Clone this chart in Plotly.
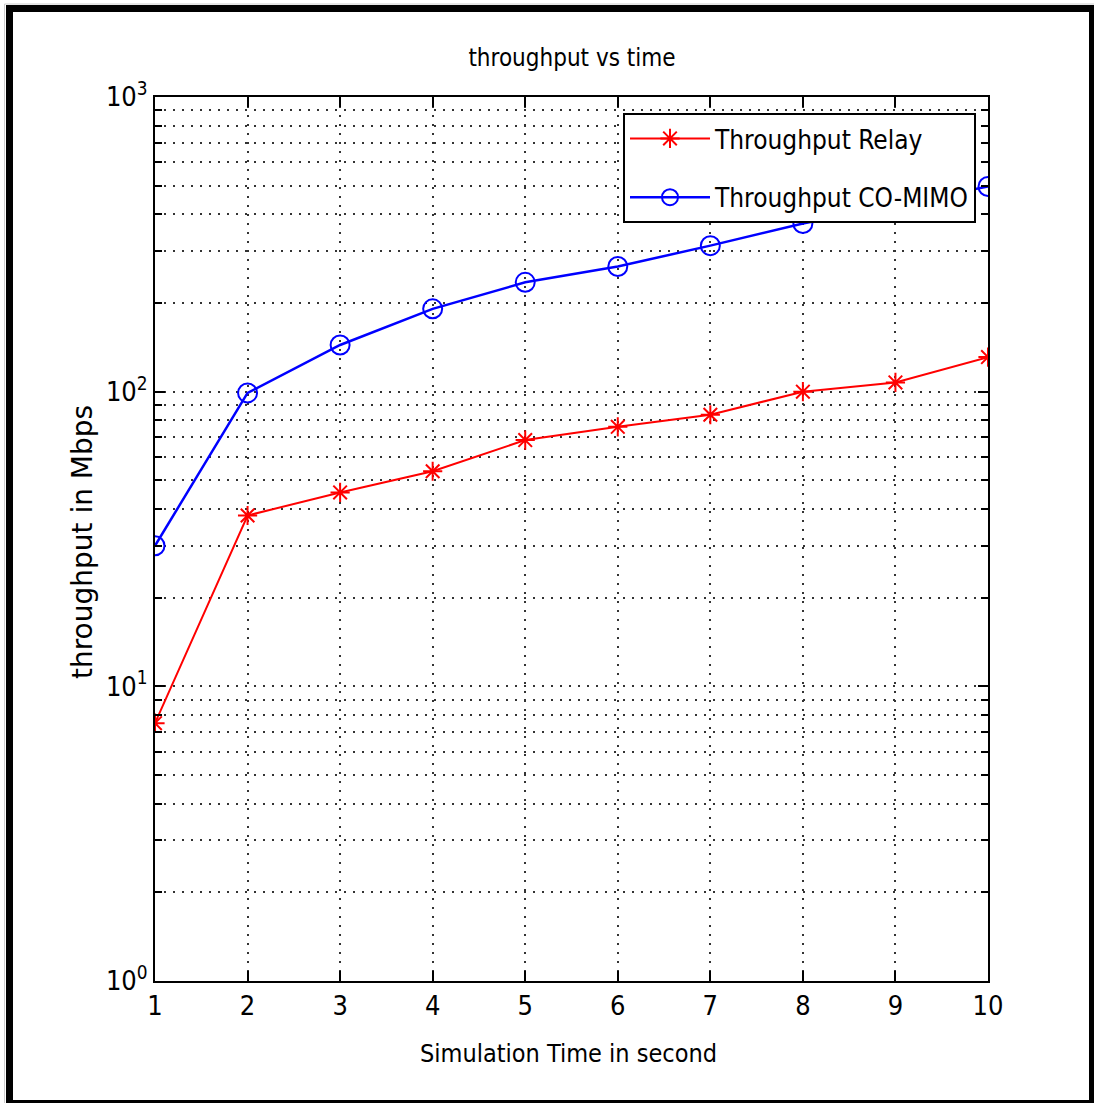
import plotly.graph_objects as go

# Simulation time (s) and measured throughput (Mbps)
sim_time = [1, 2, 3, 4, 5, 6, 7, 8, 9, 10]
throughput_relay = [7.5, 38, 45.5, 53.7, 68.5, 76, 83.5, 100, 107.5, 131]
throughput_comimo = [30, 99, 144, 191, 235, 266, 313, 372, 430, 497]

y_major_vals = [1, 10, 100, 1000]
y_major_text = ["10<sup>0</sup>", "10<sup>1</sup>", "10<sup>2</sup>", "10<sup>3</sup>"]
y_minor_vals = [m * d for d in (1, 10, 100) for m in range(2, 10)]

NARROW = "Liberation Sans Narrow, DejaVu Sans Condensed, Arial Narrow, sans-serif"
W, H = 1094, 1103
L, R, T, B = 155, 988, 97, 981  # plot box in pixels


def px_x(px):
    return (px - L) / (R - L)


def px_y(py):
    return (B - py) / (B - T)


fig = go.Figure()
fig.add_trace(go.Scatter(
    x=sim_time, y=throughput_relay, mode="lines+markers",
    name="Throughput Relay", legendgroup="relay",
    line=dict(color="#ff0000", width=2),
    marker=dict(symbol="asterisk-open", size=16, color="#ff0000",
                line=dict(color="#ff0000", width=2)),
))
fig.add_trace(go.Scatter(
    x=sim_time, y=throughput_comimo, mode="lines+markers",
    name="Throughput CO-MIMO", legendgroup="comimo",
    line=dict(color="#0000ff", width=2.5),
    marker=dict(symbol="circle-open", size=19, color="#0000ff",
                line=dict(color="#0000ff", width=2)),
))

grid_common = dict(gridcolor="#333333", gridwidth=1.5, griddash="2px,7px")

fig.update_xaxes(
    range=[1, 10], tickvals=sim_time, ticks="inside", ticklen=10, tickwidth=1.5,
    tickcolor="black", showline=True, linecolor="black", linewidth=2,
    mirror="ticks", showgrid=True, zeroline=False, automargin=False,
    tickfont=dict(family=NARROW, size=27, color="black"),
    **grid_common,
)
fig.update_yaxes(
    type="log", range=[0, 3], tickvals=y_major_vals, ticktext=y_major_text,
    ticks="inside", ticklen=10, tickwidth=1.5, tickcolor="black",
    showline=True, linecolor="black", linewidth=2, mirror="ticks",
    showgrid=True, zeroline=False, automargin=False,
    tickfont=dict(family=NARROW, size=27, color="black"),
    minor=dict(tickvals=y_minor_vals, ticks="inside", ticklen=7, tickwidth=1.5,
               tickcolor="black", showgrid=True, **grid_common),
    **grid_common,
)

fig.update_layout(
    width=W, height=H,
    margin=dict(l=L, r=W - R, t=T, b=H - B, pad=0),
    paper_bgcolor="white", plot_bgcolor="white",
    title=dict(text="throughput vs time", x=572 / W,
               xanchor="center", xref="container",
               y=1 - 58 / H, yanchor="middle", yref="container",
               font=dict(family=NARROW, size=24, color="black")),
    legend=dict(x=px_x(623), y=px_y(113), xanchor="left", yanchor="top",
                bgcolor="white", bordercolor="black", borderwidth=2,
                tracegroupgap=22, itemwidth=80,
                font=dict(family=NARROW, size=26, color="black")),
    annotations=[
        dict(text="Simulation Time in second", xref="paper", yref="paper",
             x=px_x(568), y=px_y(1053), xanchor="center", yanchor="middle",
             showarrow=False, font=dict(family=NARROW, size=25, color="black")),
        dict(text="throughput in Mbps", xref="paper", yref="paper",
             x=px_x(82), y=px_y(542), xanchor="center", yanchor="middle",
             textangle=-90, showarrow=False,
             font=dict(family="DejaVu Sans", size=28, color="black")),
    ],
    shapes=[
        dict(type="rect", xref="paper", yref="paper",
             x0=px_x(4.5), x1=px_x(1096), y0=px_y(4), y1=px_y(1110),
             line=dict(color="#cccccc", width=1)),
        dict(type="rect", xref="paper", yref="paper",
             x0=px_x(9.5), x1=px_x(1092.5), y0=px_y(8.5), y1=px_y(1103.5),
             line=dict(color="black", width=7)),
    ],
)

fig.write_html("out.html")
